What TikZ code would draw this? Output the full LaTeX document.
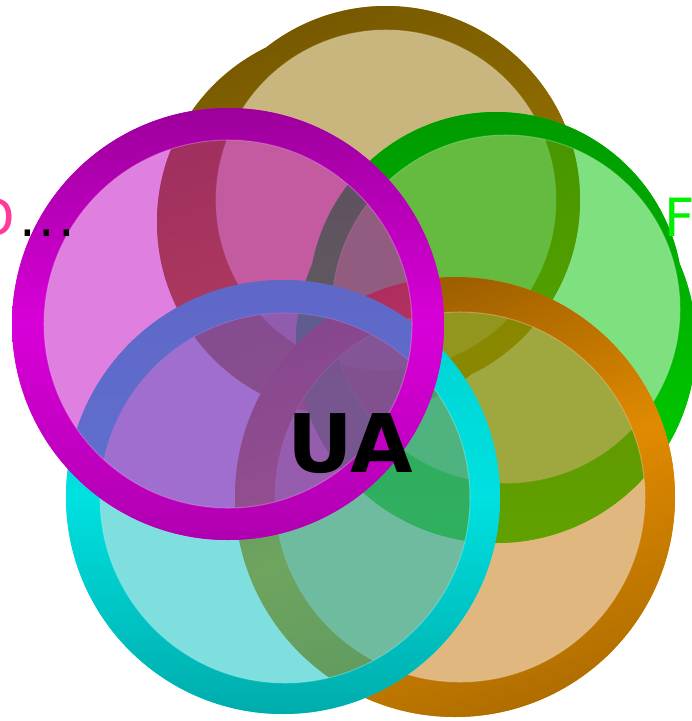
\documentclass[tikz,border=0pt]{standalone}
\usepackage{fontspec}
\setmainfont{DejaVu Sans}
\usepackage{xcolor}
\usepackage{tikz}

\definecolor{brownTop}{HTML}{765800}
\definecolor{brownBot}{HTML}{AC8200}
\definecolor{brownIn}{HTML}{946E00}
\definecolor{greenTop}{HTML}{009A00}
\definecolor{greenBot}{HTML}{00D400}
\definecolor{greenIn}{HTML}{00C100}
\definecolor{orangeTop}{HTML}{9A5C00}
\definecolor{orangeMid}{HTML}{E08A00}
\definecolor{orangeBot}{HTML}{B06E00}
\definecolor{orangeIn}{HTML}{C17100}
\definecolor{cyanTop}{HTML}{00D0D0}
\definecolor{cyanMid}{HTML}{00E0E0}
\definecolor{cyanBot}{HTML}{00ACAC}
\definecolor{cyanIn}{HTML}{00BFBF}
\definecolor{magTop}{HTML}{9C009C}
\definecolor{magMid}{HTML}{D800D8}
\definecolor{magBot}{HTML}{B000B0}
\definecolor{magIn}{HTML}{BF00BF}
\definecolor{dPink}{HTML}{FF3A9A}
\definecolor{fGreen}{HTML}{00F000}

\begin{document}
\begin{tikzpicture}[x=0.02cm, y=-0.02cm,
			inside/.style={fill opacity=0.5, draw=white, draw opacity=0.25, line width=0.6pt},
			band/.style={nonzero rule},
			setlabel/.style={font=\fontsize{30}{30}\selectfont, inner sep=0pt},
			core/.style={font=\fontsize{46}{46}\selectfont\bfseries, inner sep=0pt, anchor=base}
			]
			\useasboundingbox (0,0) rectangle (692,721);
			\clip (0,0) rectangle (692,721);
			
			% brown set
			\begin{scope}[even odd rule]
				\clip (0,0) rectangle (692,721) (386,200) circle (170);
				\shade[band, fill=brownBot, top color=brownTop, bottom color=brownBot, shading angle=20] (386,200) circle (194) (351,222) circle (194);
			\end{scope}
			\fill[brownIn, inside] (386,200) circle (170);
			
			% green set
			\begin{scope}[even odd rule]
				\clip (0,0) rectangle (692,721) (506,309) circle (174);
				\shade[band, fill=greenBot, top color=greenTop, bottom color=greenBot] (496,299) circle (187) (496,343) circle (200);
			\end{scope}
			\fill[greenIn, inside] (506,309) circle (174);
			
			% orange set
			\begin{scope}[even odd rule]
				\clip (0,0) rectangle (692,721) (460,497) circle (185);
				\shade[band, fill=orangeMid, top color=orangeTop, bottom color=orangeBot, middle color=orangeMid, shading angle=20] (455,497) circle (220);
			\end{scope}
			\fill[orangeIn, inside] (460,497) circle (185);
			
			% cyan set
			\begin{scope}[even odd rule]
				\clip (0,0) rectangle (692,721) (285,498) circle (185);
				\shade[band, fill=cyanMid, top color=cyanTop, bottom color=cyanBot, middle color=cyanMid] (283,497) circle (217);
			\end{scope}
			\fill[cyanIn, inside] (285,498) circle (185);
			
			% magenta set
			\begin{scope}[even odd rule]
				\clip (0,0) rectangle (692,721) (228,324) circle (184);
				\shade[band, fill=magMid, top color=magTop, bottom color=magBot, middle color=magMid] (228,324) circle (216);
			\end{scope}
			\fill[magIn, inside] (228,324) circle (184);
			
			\node[setlabel, anchor=base east] (dlabel) at (76,236) {\textcolor{dPink}{D}\kern2pt.\kern1.8pt.\kern1.8pt.};
			\node[setlabel, anchor=base west, text=fGreen] (flabel) at (664,236) {F};
			\node[core] (ua) at (350,472) {UA};
		\end{tikzpicture}
\end{document}
